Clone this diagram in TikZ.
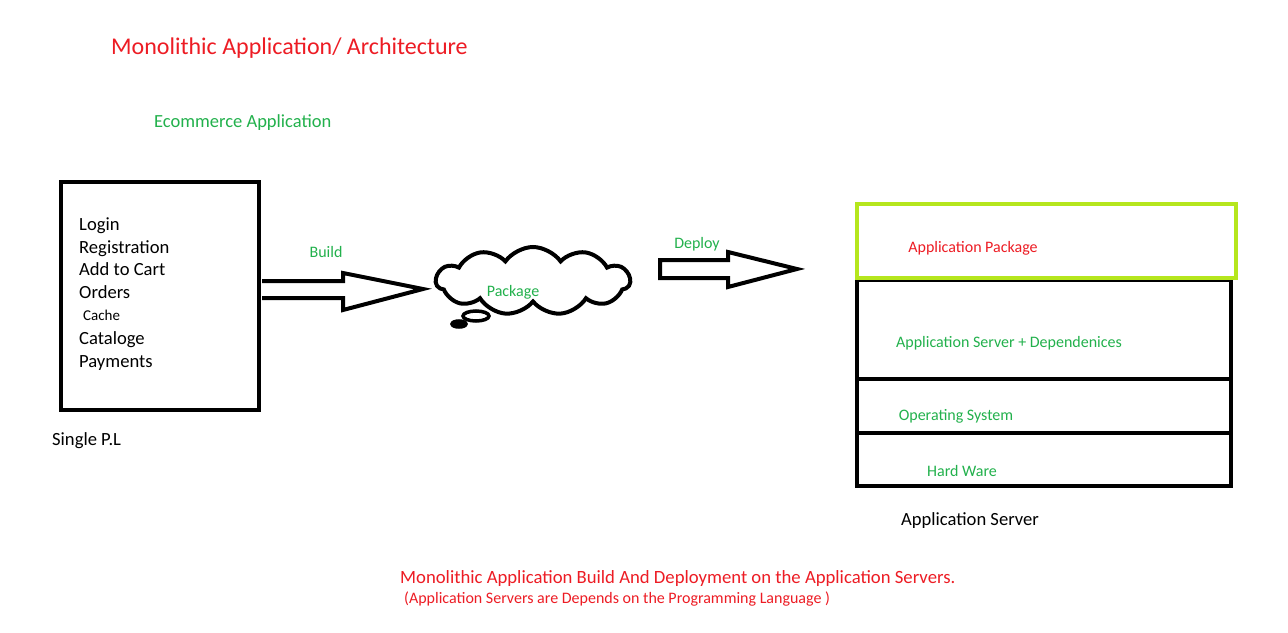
\documentclass[tikz,border=0pt]{standalone}
\usepackage{fontspec}
\setmainfont{Carlito}
\usetikzlibrary{shapes.symbols}
\definecolor{pred}{RGB}{237,28,36}
\definecolor{pgreen}{RGB}{34,177,76}
\definecolor{plime}{RGB}{181,230,29}
\begin{document}
\begin{tikzpicture}[x=1pt,y=-1pt,
  redt/.style={text=pred,inner sep=0pt},
  greent/.style={text=pgreen,inner sep=0pt},
  blackt/.style={text=black,inner sep=0pt},
  item/.style={inner sep=0pt,anchor=mid west,font=\fontsize{18.6}{20}\selectfont},
  small/.style={font=\fontsize{16}{18}\selectfont},
  thickline/.style={line width=4pt},
  blockarrow/.style={draw=black,line width=4pt,fill=white,line join=miter}]
\useasboundingbox[fill=white] (0,0) rectangle (1288,632);
% title
\node[redt,anchor=mid west,font=\fontsize{24}{26}\selectfont] (title) at (111,52) {Monolithic Application/ Architecture};
\node[greent,anchor=mid west,font=\fontsize{18.5}{20}\selectfont] (ecom) at (154,125) {Ecommerce Application};
% left box
\node[draw,thickline,minimum width=198pt,minimum height=228pt,inner sep=0pt] (app) at (160,296) {};
\node[item] (i1) at (79,228) {Login};
\node[item] (i2) at (79,251) {Registration};
\node[item] (i3) at (79,273) {Add to Cart};
\node[item] (i4) at (79,296) {Orders};
\node[item,font=\fontsize{15}{16}\selectfont] (i5) at (83,318) {Cache};
\node[item] (i6) at (79,342) {Cataloge};
\node[item] (i7) at (79,365) {Payments};
\node[blackt,anchor=mid west,font=\fontsize{18.6}{20}\selectfont] (spl) at (52,443) {Single P.L};
% build arrow
\draw[blockarrow] (262,281) -- (343,281) -- (343,273) -- (423,289) -- (343,310) -- (343,298) -- (262,298);
\node[greent,small] (build) at (326,252) {Build};
% cloud
\node[cloud,draw,line width=4pt,cloud puffs=11,cloud puff arc=110,aspect=3,minimum width=194pt,minimum height=68pt,inner sep=0pt] (cloud) at (533,281) {};
\draw[line width=3.5pt] (476,316) ellipse (13pt and 5pt);
\draw[line width=3.5pt,fill=black] (459,324) ellipse (7pt and 3pt);
\node[greent,small] (pkg) at (513,292) {Package};
% deploy arrow
\draw[blockarrow] (660,260) -- (728,260) -- (728,252) -- (797,269) -- (728,287) -- (728,278) -- (660,278) -- cycle;
\node[greent,small] (deploy) at (697,244) {Deploy};
% server stack
\draw[thickline] (857,280) rectangle (1231,486);
\draw[thickline] (857,379) -- (1231,379);
\draw[thickline] (857,433) -- (1231,433);
\draw[line width=4pt,draw=plime] (857,204) rectangle (1236,278);
\node[redt,small] (apkg) at (973,248) {Application Package};
\node[greent,small] (asrv) at (1009,343) {Application Server + Dependenices};
\node[greent,small] (os) at (956,416) {Operating System};
\node[greent,small] (hw) at (962,471) {Hard Ware};
\node[blackt,font=\fontsize{18.6}{20}\selectfont] (asl) at (970,521) {Application Server};
% bottom
\node[redt,anchor=mid west,font=\fontsize{18.7}{20}\selectfont] (f1) at (400,581) {Monolithic Application Build And Deployment on the Application Servers.};
\node[redt,anchor=mid west,font=\fontsize{16}{18}\selectfont] (f2) at (404,601) {(Application Servers are Depends on the Programming Language )};
\end{tikzpicture}
\end{document}
